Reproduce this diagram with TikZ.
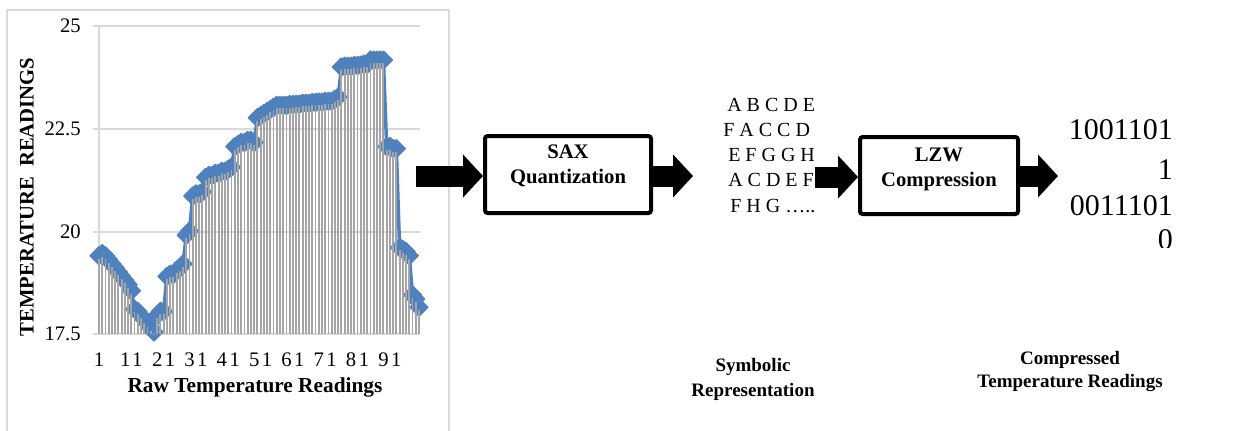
\documentclass[tikz,border=0pt]{standalone}
\usepackage{fontspec}
\setmainfont{Liberation Serif}
\usetikzlibrary{arrows.meta}
\definecolor{xlblue}{RGB}{79,129,189}
\definecolor{gridgray}{RGB}{217,217,217}
\definecolor{dropgray}{RGB}{165,165,165}
\def\tempvals{19.4,19.45,19.4,19.3,19.2,19.1,19.0,18.9,18.8,18.7,18.55,18.1,18.05,17.95,17.85,17.75,17.65,17.55,17.95,18.05,18.05,18.9,18.95,18.95,19.05,19.1,19.2,19.9,20.0,20.85,20.9,20.9,20.95,21.3,21.35,21.35,21.4,21.4,21.45,21.45,21.5,21.55,22.05,22.1,22.15,22.15,22.2,22.2,22.15,22.75,22.8,22.85,22.9,22.95,23.0,23.05,23.05,23.05,23.05,23.07,23.07,23.08,23.08,23.1,23.1,23.1,23.12,23.12,23.13,23.13,23.15,23.15,23.15,23.2,23.25,23.98,24.0,24.0,24.0,24.02,24.02,24.03,24.05,24.05,24.15,24.15,24.15,24.15,24.15,22.05,22.05,22.0,22.0,19.6,19.55,19.5,19.4,18.45,18.35,18.15}
\begin{document}
\begin{tikzpicture}[x=0.75pt,y=-0.75pt,
  proc/.style={draw=black, line width=3pt, rounded corners=2pt, minimum width=124.5pt, minimum height=57.75pt, inner sep=0pt},
  boxtxt/.style={font=\fontsize{15.5}{18.75}\selectfont\bfseries, align=center, inner sep=0pt},
  symline/.style={font=\fontsize{15}{18}\selectfont, anchor=west, inner sep=0pt},
  binline/.style={font=\fontsize{22.5}{26}\selectfont, anchor=east, inner sep=0pt},
  caption/.style={font=\fontsize{14.25}{18.75}\selectfont\bfseries, align=center, inner sep=0pt},
  blockarrow/.style={line width=15.75pt, -{Triangle[length=15pt,width=31.5pt]}},
  ticklab/.style={font=\fontsize{15.5}{17}\selectfont, inner sep=0pt},
  gridln/.style={gridgray, line width=1.1pt},
  marker/.style={fill=xlblue, draw=xlblue, line width=1pt, line join=round},
]
\useasboundingbox (0,0) rectangle (1251,430);
% chart frame
\draw[gridln] (7,10) rectangle (449,445);
% gridlines and y tick labels
\foreach \gy/\lab in {26/25, 129/22.5, 232/20, 334/17.5} {
  \draw[gridln] (93,\gy) -- (420,\gy);
  \node[ticklab, anchor=east] (yt\gy) at (81,\gy) {\lab};
}
\draw[gridln] (99,26) -- (99,334);
\coordinate (axisbase) at (99,334);
% data points
\foreach \v [count=\i] in \tempvals {
  \coordinate (p\i) at ({99+(\i-1)*3.232},{334-(\v-17.5)*41.2});
}
\draw[xlblue, line width=2.6pt, line join=round] (p1) \foreach \i in {2,...,100} { -- (p\i) };
\foreach \i in {1,...,100} {
  \path[marker] (p\i) +(-9,0) -- +(0,-9) -- +(9,0) -- +(0,9) -- cycle;
}
\foreach \i in {1,...,100} {
  \draw[dropgray, line width=1.4pt] (p\i) ++(0,3) -- (p\i |- axisbase);
}
% x tick labels
\foreach \k in {1,11,21,31,41,51,61,71,81,91} {
  \node[ticklab, anchor=center] (xt\k) at ({99+(\k-1)*3.232},360) {\addfontfeatures{LetterSpace=12}\k};
}
\node[font=\fontsize{16}{18}\selectfont\bfseries, inner sep=0pt] (xtitle) at (255,387) {Raw Temperature Readings};
\node[font=\fontsize{15.5}{18}\selectfont\bfseries, inner sep=0pt, rotate=90] (ytitle) at (27,197) {TEMPERATURE~~READINGS};
% SAX box
\node[proc] (sax) at (568,174.5) {};
\node[boxtxt] (saxtxt) at (568,166) {SAX\\Quantization};
% symbols
\node[symline] (s1) at (727,105) {A B C D E};
\node[symline] (s2) at (723,130) {F A C C D};
\node[symline] (s3) at (728,155) {E F G G H};
\node[symline] (s4) at (728,180) {A C D E F};
\node[symline] (s5) at (730,206) {F H G …..};
% LZW box
\node[proc, minimum width=118.5pt] (lzw) at (939,175.5) {};
\node[boxtxt] (lzwtxt) at (939,169.5) {LZW\\Compression};
% binary output
\node[binline] (b1) at (1173,130) {1001101};
\node[binline] (b2) at (1173,170) {1};
\node[binline] (b3) at (1173,206) {0011101};
\begin{scope}
  \clip (1100,220) rectangle (1200,247);
  \node[binline] (b4) at (1173,240) {0};
\end{scope}
% captions
\node[caption] (cap1) at (753,379.5) {Symbolic\\Representation};
\node[caption, font=\fontsize{14.25}{17.25}\selectfont\bfseries] (cap2) at (1070,371.5) {Compressed\\Temperature Readings};
% arrows
\coordinate (a1) at (416,176);
\coordinate (a2) at (693,176);
\coordinate (a3) at (815,177);
\coordinate (a4) at (1058,176);
\draw[blockarrow] (a1) -- (a1 -| sax.west);
\draw[blockarrow] (a2 -| sax.east) -- (a2);
\draw[blockarrow] (a3) -- (a3 -| lzw.west);
\draw[blockarrow] (a4 -| lzw.east) -- (a4);
\end{tikzpicture}
\end{document}
